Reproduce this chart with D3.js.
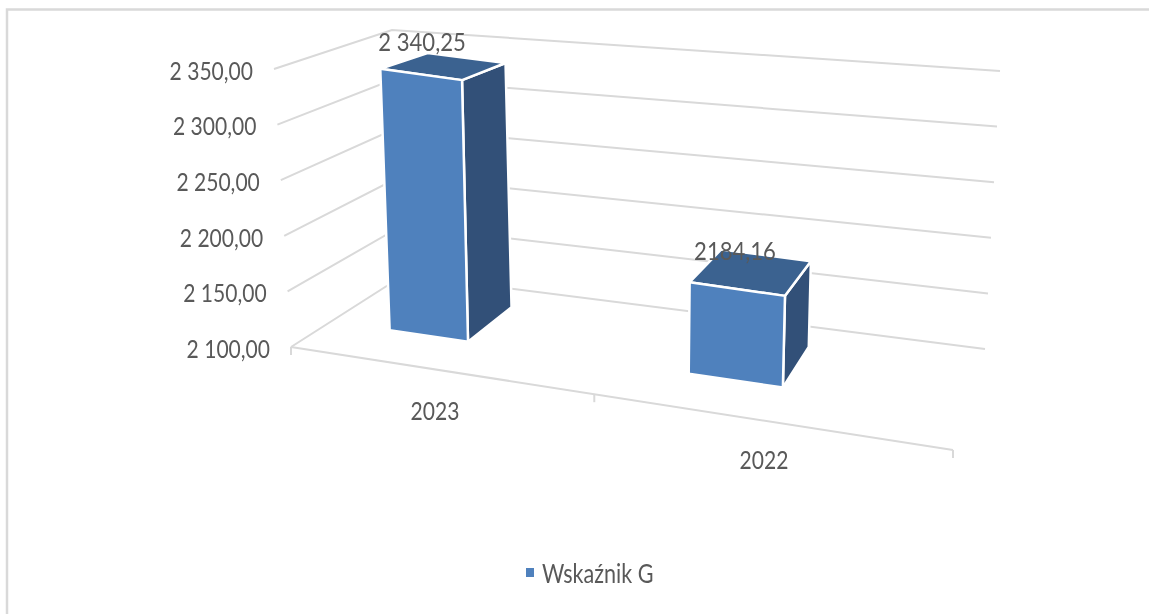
<!DOCTYPE html>
<html>
<head>
<meta charset="utf-8">
<script src="https://cdn.jsdelivr.net/npm/d3@7"></script>
<style>
html, body { margin: 0; padding: 0; background: #fff; }
svg { display: block; filter: blur(0.4px); }
text { font-family: Lato, "Open Sans", sans-serif; fill: #595959; }
</style>
</head>
<body>
<div id="vis"></div>
<script>
const width = 1149;
const height = 614;

// data
const categories = ["2023", "2022"];
const values = [2340.25, 2184.16];
const valueLabels = ["2 340,25", "2184,16"];
const tickValues = [2100, 2150, 2200, 2250, 2300, 2350];
const tickLabels = ["2 100,00", "2 150,00", "2 200,00", "2 250,00", "2 300,00", "2 350,00"];
const seriesName = "Wskaźnik G";

var svg = d3.select("#vis").append("svg")
    .attr("width", width)
    .attr("height", height);

// frame of the chart area
svg.append("path")
    .attr("d", "M7,614V9.5H1149")
    .attr("fill", "none")
    .attr("stroke", "#d9d9d9")
    .attr("stroke-width", 2.5);

// corners of the 3d box as seen on screen, (u,w): u along the categories, w into the depth
const floorQuad = [[291, 347], [953, 450], [985, 349], [404, 275]];
const topQuad = [[274, 69], [972, 135], [1000, 71], [392, 30]];

// unit square -> quad
function squareToQuad(q) {
    const [x0, y0] = q[0], [x1, y1] = q[1], [x2, y2] = q[2], [x3, y3] = q[3];
    const dx1 = x1 - x2, dx2 = x3 - x2, sx = x0 - x1 + x2 - x3;
    const dy1 = y1 - y2, dy2 = y3 - y2, sy = y0 - y1 + y2 - y3;
    const den = dx1 * dy2 - dx2 * dy1;
    const g = (sx * dy2 - dx2 * sy) / den;
    const h = (dx1 * sy - sx * dy1) / den;
    const a = x1 - x0 + g * x1, b = x3 - x0 + h * x3;
    const d = y1 - y0 + g * y1, e = y3 - y0 + h * y3;
    return function(u, w) {
        const k = g * u + h * w + 1;
        return [(a * u + b * w + x0) / k, (d * u + e * w + y0) / k];
    };
}

const floorMap = squareToQuad(floorQuad);
const topMap = squareToQuad(topQuad);

// u, v (0 floor .. 1 top), w -> screen
function project(u, v, w) {
    const p = floorMap(u, w), q = topMap(u, w);
    return [p[0] + (q[0] - p[0]) * v, p[1] + (q[1] - p[1]) * v];
}

// bars rise straighter than the walls do: lean goes with u, height with w
const barLean = d3.scaleLinear().domain([0, 1]).range([-12.5, 12.5]);
const barRise = d3.scaleLinear().domain([0, 1]).range([285, 245]);

function projectBar(u, v, w) {
    const p = floorMap(u, w);
    return [p[0] + barLean(u) * v, p[1] - barRise(w) * v];
}

// range is shifted a bit, the bars do not sit in the middle of their slots in the source
const x = d3.scaleBand().domain(categories).range([-0.07, 0.93]).paddingInner(0.72).paddingOuter(0.36);
const y = d3.scaleLinear().domain([2100, 2350]).range([0, 1]);
const barDepth = [0.32, 0.77];

const line = d3.line();

// gridlines on the two walls
svg.append("g").selectAll("path")
    .data(tickValues)
    .enter()
    .append("path")
    .attr("d", function(d) {
        return line([project(0, y(d), 0), project(0, y(d), 1), project(1, y(d), 1)]);
    })
    .attr("fill", "none")
    .attr("stroke", "#d9d9d9")
    .attr("stroke-width", 2);

// front edge of the floor with its ticks
svg.append("path")
    .attr("d", line([project(0, 0, 0), project(1, 0, 0)]))
    .attr("fill", "none")
    .attr("stroke", "#d9d9d9")
    .attr("stroke-width", 2);

svg.append("g").selectAll("path")
    .data([0, 0.507, 1])
    .enter()
    .append("path")
    .attr("d", function(d) {
        const p = project(d, 0, 0);
        return line([p, [p[0], p[1] + 8]]);
    })
    .attr("stroke", "#d9d9d9")
    .attr("stroke-width", 2);

// bars
const bars = svg.append("g").selectAll("g")
    .data(categories.map(function(c, i) { return { cat: c, value: values[i] }; }))
    .enter()
    .append("g");

function face(pts) {
    return line(pts) + "Z";
}

bars.append("path") // side
    .attr("d", function(d) {
        const u1 = x(d.cat) + x.bandwidth(), v = y(d.value);
        return face([projectBar(u1, 0, barDepth[0]), projectBar(u1, v, barDepth[0]), projectBar(u1, v, barDepth[1]), projectBar(u1, 0, barDepth[1])]);
    })
    .attr("fill", "#325078");

bars.append("path") // top
    .attr("d", function(d) {
        const u0 = x(d.cat), u1 = u0 + x.bandwidth(), v = y(d.value);
        return face([projectBar(u0, v, barDepth[0]), projectBar(u1, v, barDepth[0]), projectBar(u1, v, barDepth[1]), projectBar(u0, v, barDepth[1])]);
    })
    .attr("fill", "#3b6290");

bars.append("path") // front
    .attr("d", function(d) {
        const u0 = x(d.cat), u1 = u0 + x.bandwidth(), v = y(d.value);
        return face([projectBar(u0, 0, barDepth[0]), projectBar(u1, 0, barDepth[0]), projectBar(u1, v, barDepth[0]), projectBar(u0, v, barDepth[0])]);
    })
    .attr("fill", "#4f81bd");

bars.selectAll("path")
    .attr("stroke", "#fff")
    .attr("stroke-width", 2.5)
    .attr("stroke-linejoin", "round");

// the source text is squeezed horizontally
function addText(px, py, str, sx, anchor) {
    return svg.append("text")
        .attr("transform", "translate(" + px + "," + py + ") scale(" + sx + ",1)")
        .attr("text-anchor", anchor)
        .attr("dominant-baseline", "central")
        .style("font-size", "26px")
        .text(str);
}

tickValues.forEach(function(d, i) {
    const p = project(0, y(d), 0);
    addText(p[0] - 21, p[1] + 1, tickLabels[i], 0.81, "end");
});

addText(435, 410, categories[0], 0.81, "middle");
addText(764, 459, categories[1], 0.81, "middle");

addText(422, 41, valueLabels[0], 0.85, "middle");
addText(735, 250, valueLabels[1], 0.85, "middle");

// legend
svg.append("rect")
    .attr("x", 526).attr("y", 568)
    .attr("width", 8).attr("height", 9)
    .attr("fill", "#4f81bd");
addText(542, 573, seriesName, 0.83, "start");
</script>
</body>
</html>
